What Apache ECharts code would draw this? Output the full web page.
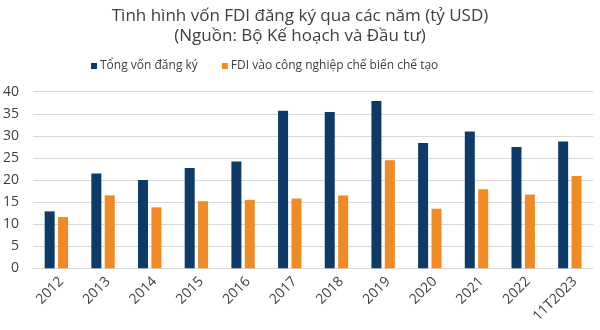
<!DOCTYPE html>
<html>
<head>
<meta charset="utf-8">
<script src="https://cdn.jsdelivr.net/npm/echarts@6/dist/echarts.min.js"></script>
<style>
  html, body { margin: 0; padding: 0; background: #fff; }
  #chart { width: 600px; height: 330px; }
</style>
</head>
<body>
<div id="chart"></div>
<script>
// Registered FDI by year (billion USD)
const years = ['2012', '2013', '2014', '2015', '2016', '2017', '2018', '2019', '2020', '2021', '2022', '11T2023'];
const totalCapital = [12.9, 21.5, 20.0, 22.7, 24.2, 35.7, 35.4, 37.9, 28.4, 31.0, 27.5, 28.7];
const manufacturingFDI = [11.6, 16.5, 13.8, 15.2, 15.5, 15.8, 16.5, 24.5, 13.5, 17.9, 16.7, 20.9];
const yTicks = [0, 5, 10, 15, 20, 25, 30, 35, 40];

const FONT = '"Open Sans", sans-serif';
const chart = echarts.init(document.getElementById('chart'), null, { renderer: 'canvas' });

chart.setOption({
  animation: false,
  title: {
    text: 'Tình hình vốn FDI đăng ký qua các năm (tỷ USD)\n(Nguồn: Bộ Kế hoạch và Đầu tư)',
    left: 'center',
    top: 1,
    textStyle: { fontFamily: FONT, fontSize: 17, fontWeight: 'normal', color: '#404040', lineHeight: 20 }
  },
  legend: {
    left: 86,
    top: 55,
    itemWidth: 6,
    itemHeight: 6,
    itemGap: 24,
    icon: 'rect',
    textStyle: { fontFamily: FONT, fontSize: 12, color: '#404040', padding: [0, 0, 0, -2] },
    data: ['Tổng vốn đăng ký', 'FDI vào công nghiệp chế biến chế tạo']
  },
  grid: { left: 31.6, right: 6.8, top: 91.7, bottom: 61.7, containLabel: false },
  xAxis: {
    type: 'category',
    data: years,
    axisTick: { show: false },
    axisLine: { lineStyle: { color: '#d9d9d9' } },
    axisLabel: {
      rotate: 45, interval: 0, margin: 6, verticalAlign: 'top',
      fontFamily: FONT, fontSize: 14, color: '#404040'
    }
  },
  yAxis: {
    type: 'value',
    min: yTicks[0],
    max: yTicks[yTicks.length - 1],
    interval: 5,
    axisLine: { show: false },
    axisTick: { show: false },
    splitLine: { lineStyle: { color: '#d9d9d9' } },
    axisLabel: { margin: 14, fontFamily: FONT, fontSize: 14, color: '#404040' }
  },
  series: [
    {
      name: 'Tổng vốn đăng ký',
      type: 'bar',
      data: totalCapital,
      barWidth: 10,
      barGap: '34%',
      itemStyle: { color: '#0e3a68' }
    },
    {
      name: 'FDI vào công nghiệp chế biến chế tạo',
      type: 'bar',
      data: manufacturingFDI,
      barWidth: 10,
      itemStyle: { color: '#f08a24' }
    }
  ]
});
</script>
</body>
</html>
